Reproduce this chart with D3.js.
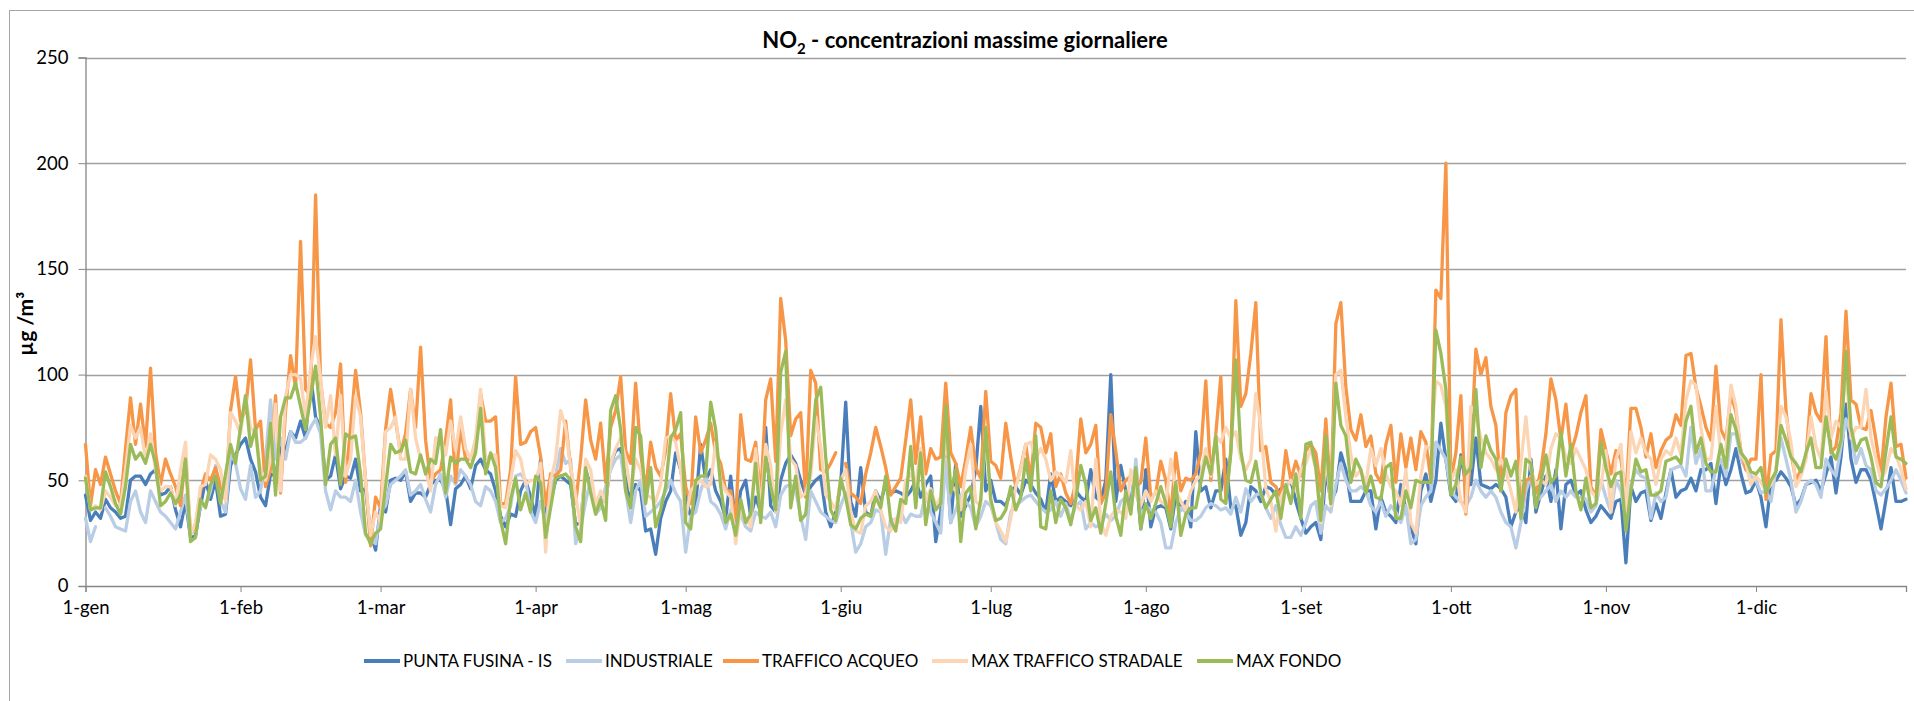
<!DOCTYPE html>
<html>
<head>
<meta charset="utf-8">
<script src="https://cdn.jsdelivr.net/npm/d3@7"></script>
<style>
  body { margin: 0; background: #ffffff; }
  svg text { font-family: Lato, "Open Sans", sans-serif; fill: #000000; }
</style>
</head>
<body>
<div id="chart"></div>
<script>
// daily max NO2 (µg/m3), one value per day from 1-gen to 31-dic
var monthLabels = ["1-gen", "1-feb", "1-mar", "1-apr", "1-mag", "1-giu",
  "1-lug", "1-ago", "1-set", "1-ott", "1-nov", "1-dic"];

var yTicks = [0, 50, 100, 150, 200, 250];

var seriesNames = ["PUNTA FUSINA - IS", "INDUSTRIALE", "TRAFFICO ACQUEO",
  "MAX TRAFFICO STRADALE", "MAX FONDO"];

var puntaFusina = [
  43,31,35,32,41,37,35,32,33,50, 52,52,48,53,55,43,44,47,36,28, 40,23,24,38,50,41,50,33,34,57,
  62,67,70,60,54,42,38,53,52,66, 64,73,70,78,70,100,80,75,50,52, 62,46,52,51,60,45,46,
  25,17,38,35,50,51,50,54,40,44, 44,42,48,50,50,46,29,46,48,52, 46,57,60,55,53,45,33,28,34,33,
  45,50,42,33,60,31,40,50,52,50, 48,29,30,55,47,38,44,40,58,64, 65,50,40,48,45,26,27,15,32,40,
  45,63,55,42,
  33,38,67,50,55,45,40,32,52,28, 45,50,33,42,35,75,38,35,50,58, 62,58,50,43,47,50,52,35,28,35,
  48,87,40,33,56,35,33,45,40,48, 44,45,44,42,45,50,42,48,52,21, 35,65,30,58,33,38,43,55,85,45,
  50,40,
  40,38,45,47,43,50,48,44,41,35, 53,40,42,40,38,45,42,40,55,42, 40,50,100,40,57,45,40,55,27,55,
  28,37,38,37,27,43,36,40,28,73, 45,47,37,45,45,60,37,38,24,30, 47,45,40,47,46,43,46,47,50,40,
  32,25,
  28,30,22,55,40,45,63,55,40,40, 40,45,45,27,42,35,33,30,48,36, 28,20,45,53,40,50,77,60,43,40,
  62,48,48,70,48,47,46,48,46,42, 28,35,38,30,60,35,44,52,40,55, 27,48,50,43,45,36,30,33,38,35,
  32,40,
  41,11,47,40,44,45,31,39,32,44, 55,42,45,46,51,45,55,55,58,39, 58,48,55,65,53,44,45,50,42,28,
  49,50,54,51,47,38,41,48,49,50, 45,53,61,44,61,86,60,49,55,55, 50,39,27,41,56,40,40,41
];

var industriale = [
  32,21,28,null,37,33,28,27,26,40, 45,35,30,45,40,35,33,30,27,35, 43,24,27,38,38,45,57,40,35,63,
  58,46,41,57,42,45,60,88,60,70, 60,73,68,68,70,75,79,72,45,36, 45,42,42,40,50,35,24,
  22,20,35,38,48,50,52,55,43,45, 48,41,35,48,53,42,52,48,55,52, 48,40,38,47,45,40,30,32,38,52,
  53,50,35,30,40,30,45,52,65,58, 60,20,27,40,50,34,37,47,55,60, 62,45,30,45,50,33,35,37,40,45,
  50,44,40,16,
  33,35,45,52,40,38,34,27,36,28, 34,28,26,35,33,32,35,28,43,47, 48,45,33,22,45,40,35,33,31,30,
  38,44,30,16,20,28,30,36,35,15, 32,30,35,30,34,33,33,44,35,30, 25,60,30,36,43,40,37,28,33,40,
  38,30,
  22,20,35,38,40,42,43,40,37,35, 36,40,33,39,31,38,40,27,30,28, 29,34,31,33,40,42,35,60,33,38,
  36,35,30,18,18,30,37,35,31,31, 33,37,39,38,36,37,34,42,35,46, 40,43,44,37,32,38,29,23,23,28,
  24,30,
  38,40,25,38,35,48,58,50,45,45, 47,45,38,35,40,33,38,35,30,38, 20,22,38,42,45,68,64,60,45,42,
  40,38,42,50,45,42,45,42,35,30, 28,18,30,45,52,40,42,45,48,40, 45,42,45,42,42,41,35,38,50,42,
  35,50,
  45,32,48,55,52,51,32,44,40,42, 55,56,57,52,75,58,65,45,45,55, 60,52,72,72,60,55,52,50,44,45,
  40,55,70,60,50,35,40,48,50,48, 42,60,55,52,66,79,72,58,65,57, 55,45,43,46,50,55,50,44
];

var trafficoAcqueo = [
  67,38,55,48,61,53,45,39,65,89, 67,86,66,103,63,48,60,53,47,38, 62,25,28,45,53,50,56,47,41,83,
  99,78,83,107,74,78,47,55,90,44, 83,109,94,163,93,90,185,97,77,75, 82,105,49,75,102,82,50,
  19,42,37,74,93,78,63,72,93,75, 113,69,49,53,55,69,88,49,75,60, 60,66,91,78,78,80,39,39,55,99,
  67,68,73,75,61,38,53,52,55,78, 56,39,60,88,69,60,77,49,75,83, 99,64,58,96,63,45,68,56,52,64,
  91,69,72,47,
  39,80,63,69,77,63,58,45,45,31, 81,60,59,68,41,88,98,59,136,116, 71,79,82,42,102,96,55,54,58,63,
  null,58,44,42,39,53,63,75,66,56, 43,47,51,69,88,58,80,53,65,60, 61,96,63,58,47,60,75,56,51,92,
  59,57,
  51,77,61,47,56,67,50,77,75,63, 72,47,53,44,39,49,79,63,67,76, 39,44,81,64,45,50,52,47,49,70,
  42,44,59,50,33,63,45,51,50,53, 63,97,50,72,99,41,64,135,85,91, 110,134,64,66,49,47,42,64,50,59,
  52,64,
  67,63,45,79,41,124,134,94,74,69, 81,66,71,53,49,67,76,49,72,56, 70,55,73,68,50,140,136,200,50,63,
  90,34,63,112,100,108,85,76,45,82, 90,93,34,50,51,44,55,72,98,88, 69,86,63,71,82,90,47,42,74,64,
  53,64,
  60,42,84,84,75,61,72,56,64,69, 71,81,76,109,110,94,85,75,69,104, 74,69,91,82,64,55,60,60,100,41,
  62,64,126,83,63,50,55,61,91,82, 78,118,63,66,82,130,88,86,75,74, 83,69,53,80,96,66,67,51
];

var maxStradale = [
  52,36,38,36,45,42,38,38,55,76, 70,75,60,72,55,45,47,47,38,55, 68,24,30,47,48,62,60,55,40,82,
  78,72,90,75,72,55,50,60,86,45, 90,100,100,98,80,103,118,98,75,90, 62,90,52,60,90,80,50,
  24,35,30,73,75,80,60,60,93,70, 60,55,45,70,70,62,78,64,80,65, 60,70,93,60,62,62,38,37,50,64,
  60,48,50,50,58,16,50,60,83,75, 56,43,28,60,55,38,45,40,58,65, 70,60,45,60,55,43,42,40,48,70,
  71,68,55,32,
  45,48,50,47,48,68,50,45,42,20, 37,32,28,65,35,67,57,35,72,88, 60,57,42,44,52,80,66,43,40,36,
  50,55,35,26,25,38,40,45,36,28, 26,32,30,50,53,48,65,40,46,38, 42,71,48,45,36,55,67,40,38,75,
  40,30,
  26,21,32,47,55,67,68,60,65,60, 50,54,52,49,64,38,36,40,28,60, 30,24,33,36,35,32,55,43,38,45,
  40,45,40,38,60,45,40,36,45,50, 52,65,52,71,68,75,70,73,60,55, 60,91,75,46,40,26,42,47,50,45,
  55,58,
  65,55,30,62,38,100,102,80,62,52, 55,48,65,57,65,53,47,45,38,55, 30,25,52,66,65,97,95,85,50,55,
  40,35,85,80,70,63,60,55,60,54, 45,35,58,80,55,48,50,48,65,72, 70,61,58,65,60,55,45,42,47,64,
  35,60,
  67,35,73,63,70,63,60,48,60,64, 62,70,62,88,97,95,75,60,60,85, 62,65,95,85,62,58,48,52,49,45,
  48,55,85,80,68,47,52,60,80,66, 60,92,70,78,75,103,70,75,75,93, 70,60,50,55,65,62,55,46
];

var maxFondo = [
  51,36,37,37,54,47,39,34,47,67, 60,63,58,67,58,38,40,44,39,43, 60,21,23,41,37,48,52,39,53,67,
  58,75,90,66,75,50,52,77,43,80, 89,89,96,85,74,89,104,80,48,67, 70,48,72,70,71,53,25,
  20,25,27,47,67,63,64,69,54,53, 62,53,60,58,74,44,61,58,60,60, 56,63,84,53,63,56,31,20,41,51,
  36,44,35,52,49,23,37,51,52,53, 50,28,21,56,44,34,41,31,83,90, 74,45,37,75,71,39,56,28,36,47,
  70,74,82,30,
  27,50,52,52,87,74,47,30,34,24, 41,30,34,58,30,61,47,36,101,111, 37,52,31,34,58,88,94,61,36,31,
  51,42,29,27,32,34,33,42,37,52, 31,26,41,39,66,37,63,29,45,36, 39,85,44,55,21,44,47,27,41,75,
  41,31,
  32,36,47,36,42,60,45,71,28,27, 45,30,41,37,29,41,57,48,31,37, 25,39,54,33,24,45,34,56,27,39,
  32,39,47,39,28,49,24,34,37,37, 49,61,53,71,41,39,63,107,64,50, 49,59,44,37,41,45,32,48,39,53,
  32,67,
  68,56,31,71,39,96,76,71,49,60, 55,44,52,42,41,56,58,32,32,45, 37,50,49,49,49,121,110,93,43,48,
  61,53,56,93,56,71,64,60,45,60, 52,59,32,60,58,37,49,62,49,52, 73,52,67,45,36,51,37,39,68,56,
  47,53,
  54,26,45,60,54,55,43,43,45,59, 60,61,58,78,85,63,70,58,54,54, 67,56,81,74,63,60,54,53,56,44,
  50,54,76,69,61,58,54,63,70,56, 56,80,64,60,69,111,75,64,69,70, 61,49,47,64,80,61,60,58
];

var seriesValues = [puntaFusina, industriale, trafficoAcqueo, maxStradale, maxFondo];
var seriesColors = ["#4a7ebb", "#b9cde5", "#f79646", "#fcd5b5", "#9bbb59"];

var svgWidth = 1914;
var svgHeight = 701;

var plot = { left: 85.5, right: 1906, top: 57.5, bottom: 586 };

var svg = d3.select("#chart")
  .append("svg")
  .attr("width", svgWidth)
  .attr("height", svgHeight);

// chart area border (only left and top edges are inside the window)
svg.append("rect")
  .attr("x", 9.5)
  .attr("y", 10.5)
  .attr("width", svgWidth)
  .attr("height", svgHeight)
  .attr("fill", "none")
  .attr("stroke", "#a6a6a6")
  .attr("stroke-width", 1);

var startDate = new Date(2019, 0, 1);
var endDate = new Date(2019, 11, 31);

var xScale = d3.scaleTime()
  .domain([startDate, endDate])
  .range([plot.left, plot.right]);

var yScale = d3.scaleLinear()
  .domain([0, 250])
  .range([plot.bottom, plot.top]);

// gridlines
svg.append("g")
  .selectAll("line")
  .data(yTicks.filter(d => d > 0))
  .enter()
  .append("line")
  .attr("x1", plot.left)
  .attr("x2", plot.right)
  .attr("y1", d => Math.round(yScale(d)) + 0.5)
  .attr("y2", d => Math.round(yScale(d)) + 0.5)
  .attr("stroke", "#a0a0a0")
  .attr("stroke-width", 1.3);

// y axis
var leftAxis = d3.axisLeft(yScale)
  .tickValues(yTicks)
  .tickSize(7)
  .tickPadding(10)
  .tickFormat(d3.format("d"));

var yAxis = svg.append("g")
  .attr("transform", `translate(${plot.left}, 0)`)
  .call(leftAxis);

yAxis.select(".domain")
  .attr("stroke", "#868686")
  .attr("stroke-width", 1.3);
yAxis.selectAll(".tick line").attr("stroke", "#868686");
yAxis.selectAll("text")
  .style("font-size", "18.5px")
  .style("fill", "#000");

// x axis, one tick per month
var monthStarts = d3.timeMonth.range(startDate, new Date(2020, 0, 1));

var bottomAxis = d3.axisBottom(xScale)
  .tickValues(monthStarts)
  .tickSize(6)
  .tickPadding(9)
  .tickFormat((d, i) => monthLabels[i]);

var xAxis = svg.append("g")
  .attr("transform", `translate(0, ${plot.bottom})`)
  .call(bottomAxis);

xAxis.select(".domain")
  .attr("stroke", "#868686")
  .attr("stroke-width", 1.3);
xAxis.selectAll(".tick line").attr("stroke", "#868686");
xAxis.selectAll("text")
  .style("font-size", "18.5px")
  .style("fill", "#000");

// lines
var line = d3.line()
  .defined(d => d.value !== null)
  .x(d => xScale(d.date))
  .y(d => yScale(d.value));

seriesValues.forEach(function(values, s) {
  var points = values.map(function(v, i) {
    return { date: d3.timeDay.offset(startDate, i), value: v };
  });
  svg.append("path")
    .datum(points)
    .attr("fill", "none")
    .attr("stroke", seriesColors[s])
    .attr("stroke-width", 3.3)
    .attr("stroke-linejoin", "round")
    .attr("stroke-linecap", "round")
    .attr("d", line);
});

// title
var title = svg.append("text")
  .attr("x", 965)
  .attr("y", 48)
  .attr("text-anchor", "middle")
  .style("font-size", "22px")
  .style("font-weight", "bold");
title.append("tspan").text("NO");
title.append("tspan")
  .attr("dy", 6)
  .style("font-size", "15px")
  .text("2");
title.append("tspan")
  .attr("dy", -6)
  .text(" - concentrazioni  massime giornaliere");

// y axis title
svg.append("text")
  .attr("transform", `translate(33, ${(plot.top + plot.bottom) / 2 + 2}) rotate(-90)`)
  .attr("text-anchor", "middle")
  .style("font-size", "21px")
  .style("font-weight", "bold")
  .text("µg /m³");

// legend
var legendSampleX = [364, 566, 723, 932, 1197];
var legendY = 661;

var legend = svg.append("g");
seriesNames.forEach(function(name, s) {
  legend.append("line")
    .attr("x1", legendSampleX[s])
    .attr("x2", legendSampleX[s] + 36)
    .attr("y1", legendY)
    .attr("y2", legendY)
    .attr("stroke", seriesColors[s])
    .attr("stroke-width", 4);
  legend.append("text")
    .attr("x", legendSampleX[s] + 39)
    .attr("y", legendY)
    .attr("dy", "0.36em")
    .style("font-size", "17px")
    .text(name);
});
</script>
</body>
</html>
